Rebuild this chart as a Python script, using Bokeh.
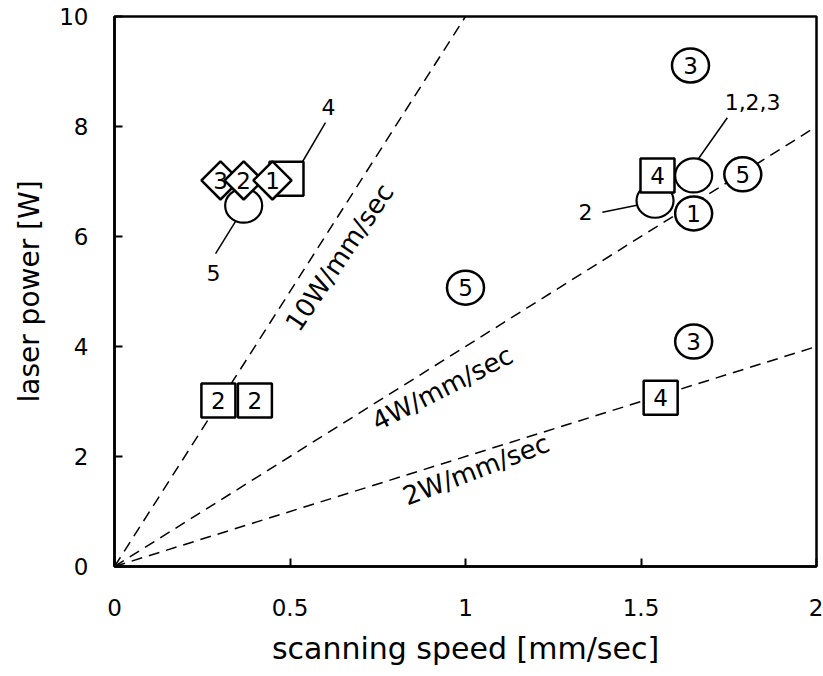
from bokeh.plotting import figure
from bokeh.models import FixedTicker
from bokeh.core.properties import value
from bokeh.embed import file_html
from bokeh.resources import INLINE

FONT = "DejaVu Sans"

# axis ticks
x_ticks = [0, 0.5, 1, 1.5, 2]
x_tick_labels = ["0", "0.5", "1", "1.5", "2"]
y_ticks = [0, 2, 4, 6, 8, 10]
y_tick_labels = ["0", "2", "4", "6", "8", "10"]

# constant energy-density lines (W per mm/sec)
line_slopes = [10, 4, 2]
line_labels = ["10W/mm/sec", "4W/mm/sec", "2W/mm/sec"]
line_label_x = [0.641, 0.934, 1.03]
line_label_y = [5.62, 3.24, 1.76]
line_label_angle = [56, 27, 21]

# numbered circles
circ_x = [1.641, 1.65, 1.79, 1.0, 1.65]
circ_y = [9.11, 6.42, 7.13, 5.07, 4.09]
circ_lab = ["3", "1", "5", "5", "3"]

# un-numbered circles (labelled with leader lines)
ecirc_x = [1.65, 1.54, 0.368]
ecirc_y = [7.11, 6.65, 6.56]

# numbered squares
sq_x = [1.547, 1.556, 0.296, 0.40, 0.49]
sq_y = [7.11, 3.07, 3.02, 3.02, 7.05]
sq_lab = ["4", "4", "2", "2", ""]

# numbered diamonds
dm_x = [0.302, 0.368, 0.45]
dm_y = [7.02, 7.02, 7.02]
dm_lab = ["3", "2", "1"]

# leader-line annotations
ann_text = ["1,2,3", "2", "4", "5"]
ann_x = [1.818, 1.342, 0.61, 0.282]
ann_y = [8.45, 6.44, 8.35, 5.33]
lead_x0 = [1.746, 1.39, 0.601, 0.288]
lead_y0 = [8.16, 6.44, 8.07, 5.69]
lead_x1 = [1.65, 1.527, 0.521, 0.359]
lead_y1 = [7.29, 6.62, 7.2, 6.42]

p = figure(width=823, height=676, x_range=(0, 2), y_range=(0, 10),
           output_backend="svg", toolbar_location=None,
           min_border_left=114, min_border_right=7,
           min_border_top=16, min_border_bottom=110,
           background_fill_color="white", border_fill_color="white")
p.grid.visible = False
p.outline_line_color = "black"
p.outline_line_width = 2.5
p.outline_line_alpha = 1.0

for ax in (p.xaxis[0], p.yaxis[0]):
    ax.axis_line_width = 2.5
    ax.axis_line_color = "black"
    ax.major_tick_in = 8
    ax.major_tick_out = 0
    ax.major_tick_line_width = 2
    ax.major_tick_line_color = "black"
    ax.minor_tick_line_color = None
    ax.major_label_text_font = FONT
    ax.major_label_text_font_size = "23px"
    ax.major_label_text_color = "black"
    ax.axis_label_text_font = FONT
    ax.axis_label_text_font_style = "normal"
    ax.axis_label_text_color = "black"

p.xaxis.ticker = FixedTicker(ticks=x_ticks)
p.xaxis.major_label_overrides = dict(zip(x_ticks, x_tick_labels))
p.xaxis.major_label_standoff = 32
p.xaxis.axis_label = "scanning speed [mm/sec]"
p.xaxis.axis_label_text_font_size = "30px"
p.xaxis.axis_label_standoff = 12

p.yaxis.ticker = FixedTicker(ticks=y_ticks)
p.yaxis.major_label_overrides = dict(zip(y_ticks, y_tick_labels))
p.yaxis.major_label_standoff = 26
p.yaxis.axis_label = "laser power [W]"
p.yaxis.axis_label_text_font_size = "28px"
p.yaxis.axis_label_standoff = 10

# dashed lines through the origin
xmax = 2.0
p.segment(x0=[0] * len(line_slopes), y0=[0] * len(line_slopes),
          x1=[xmax] * len(line_slopes), y1=[s * xmax for s in line_slopes],
          line_color="black", line_width=1.5, line_dash="11 7")
p.text(x=line_label_x, y=line_label_y, text=line_labels, angle=line_label_angle,
       angle_units="deg", text_font=value(FONT), text_font_size="26px",
       text_align="center", text_baseline="middle", text_color="black")

# leader lines and their labels
p.segment(x0=lead_x0, y0=lead_y0, x1=lead_x1, y1=lead_y1,
          line_color="black", line_width=1.5)
p.text(x=ann_x, y=ann_y, text=ann_text, text_font=value(FONT),
       text_font_size="22px", text_align="center", text_baseline="middle",
       text_color="black")

# markers
p.ellipse(x=ecirc_x, y=ecirc_y, width=37, height=34,
          width_units="screen", height_units="screen",
          fill_color="white", line_color="black", line_width=2.2)
p.ellipse(x=circ_x, y=circ_y, width=37, height=34,
          width_units="screen", height_units="screen",
          fill_color="white", line_color="black", line_width=2.5)
p.scatter(x=sq_x, y=sq_y, marker="square", size=34,
          fill_color="white", line_color="black", line_width=2.5)
p.scatter(x=dm_x, y=dm_y, marker="square", size=27, angle=45, angle_units="deg",
          fill_color="white", line_color="black", line_width=2.5)

p.text(x=circ_x + sq_x + dm_x, y=circ_y + sq_y + dm_y, text=circ_lab + sq_lab + dm_lab,
       text_font=value(FONT), text_font_size="23px", text_align="center",
       text_baseline="middle", text_color="black")

open("out.html", "w").write(file_html(p, INLINE))
